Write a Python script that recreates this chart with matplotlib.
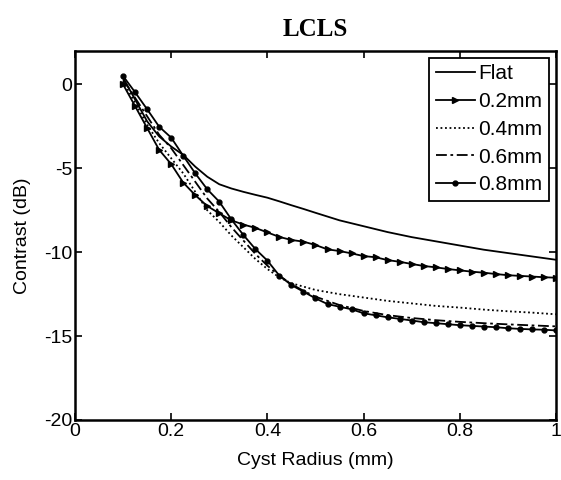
import matplotlib
matplotlib.use("Agg")
import matplotlib.pyplot as plt

plt.rcParams["font.family"] = ["Liberation Sans", "DejaVu Sans"]
plt.rcParams["axes.unicode_minus"] = False

# cyst radius grid used by the marker curves (mm)
radius = [0.1, 0.125, 0.15, 0.175, 0.2, 0.225, 0.25, 0.275, 0.3, 0.325, 0.35, 0.375,
          0.4, 0.425, 0.45, 0.475, 0.5, 0.525, 0.55, 0.575, 0.6, 0.625, 0.65, 0.675,
          0.7, 0.725, 0.75, 0.775, 0.8, 0.825, 0.85, 0.875, 0.9, 0.925, 0.95, 0.975, 1.0]

contrast_02 = [0.0, -1.3, -2.6, -3.9, -4.75, -5.85, -6.6, -7.25, -7.68, -8.1, -8.35, -8.55,
               -8.82, -9.09, -9.27, -9.37, -9.57, -9.83, -9.93, -10.07, -10.23, -10.3, -10.47, -10.57,
               -10.7, -10.82, -10.9, -11.0, -11.08, -11.16, -11.22, -11.3, -11.37, -11.41, -11.45, -11.49, -11.52]

contrast_08 = [0.5, -0.47, -1.48, -2.52, -3.17, -4.25, -5.3, -6.25, -6.99, -8.04, -8.97, -9.81,
               -10.5, -11.4, -11.96, -12.35, -12.75, -13.09, -13.25, -13.4, -13.64, -13.76, -13.88, -13.97,
               -14.07, -14.17, -14.23, -14.29, -14.35, -14.39, -14.43, -14.47, -14.53, -14.57, -14.6, -14.62, -14.66]

# coarser grid for the unmarked curves
radius_c = [0.1, 0.125, 0.15, 0.175, 0.2, 0.225, 0.25, 0.275, 0.3, 0.325, 0.35, 0.375,
            0.4, 0.425, 0.45, 0.475, 0.5, 0.55, 0.6, 0.65, 0.7, 0.75, 0.8, 0.85, 0.9, 0.95, 1.0]

contrast_flat = [0.4, -0.9, -2.2, -3.1, -3.7, -4.2, -4.9, -5.5, -5.95, -6.2, -6.4, -6.58,
                 -6.75, -6.97, -7.2, -7.42, -7.65, -8.1, -8.45, -8.8, -9.1, -9.35, -9.6, -9.85, -10.05, -10.25, -10.45]

contrast_04 = [0.2, -1.1, -2.4, -3.5, -4.4, -5.3, -6.4, -7.5, -8.2, -9.0, -9.7, -10.4,
               -11.0, -11.5, -11.85, -12.05, -12.25, -12.5, -12.7, -12.9, -13.05, -13.2, -13.3, -13.42, -13.52, -13.6, -13.7]

contrast_06 = [0.3, -0.8, -1.9, -3.0, -3.8, -4.8, -5.8, -6.8, -7.6, -8.5, -9.3, -10.1,
               -10.8, -11.4, -11.9, -12.3, -12.65, -13.15, -13.5, -13.75, -13.92, -14.05, -14.15, -14.23, -14.3, -14.36, -14.42]

fig = plt.figure(figsize=(5.61, 4.8), dpi=100)
ax = fig.add_axes([0.1337, 0.125, 0.8573, 0.769])

lw = 1.3
ax.plot(radius_c, contrast_flat, "k-", linewidth=lw, label="Flat")
ax.plot(radius, contrast_02, "k-", marker=">", markersize=4.5, linewidth=lw, label="0.2mm")
ax.plot(radius_c, contrast_04, "k", linestyle=(0, (1, 1.5)), linewidth=lw, label="0.4mm")
ax.plot(radius_c, contrast_06, "k", linestyle=(0, (6, 2, 1.5, 2)), linewidth=lw, label="0.6mm")
ax.plot(radius, contrast_08, "k-", marker="o", markersize=3.5, linewidth=lw, label="0.8mm")

ax.set_xlim(0, 1)
ax.set_ylim(-20, 2)
ax.set_xticks([0, 0.2, 0.4, 0.6, 0.8, 1])
ax.set_xticklabels(["0", "0.2", "0.4", "0.6", "0.8", "1"])
ax.set_yticks([-20, -15, -10, -5, 0])
ax.set_yticklabels(["-20", "-15", "-10", "-5", "0"])
ax.tick_params(direction="in", length=5, width=1.2, top=True, right=True, labelsize=14, pad=2)
for s in ax.spines.values():
    s.set_linewidth(1.8)

ax.set_xlabel("Cyst Radius (mm)", fontsize=14, labelpad=9)
ax.set_ylabel("Contrast (dB)", fontsize=14, labelpad=9)
ax.set_title("LCLS", fontsize=18, fontweight="bold", family="Liberation Serif", pad=11)

leg = ax.legend(loc="upper right", fontsize=15, frameon=True, fancybox=False,
                edgecolor="black", handlelength=1.9, handletextpad=0.15,
                borderpad=0.3, labelspacing=0.42, borderaxespad=0.35)
leg.get_frame().set_linewidth(1.3)
leg.get_frame().set_alpha(1)

fig.savefig("out.png", dpi=100)
